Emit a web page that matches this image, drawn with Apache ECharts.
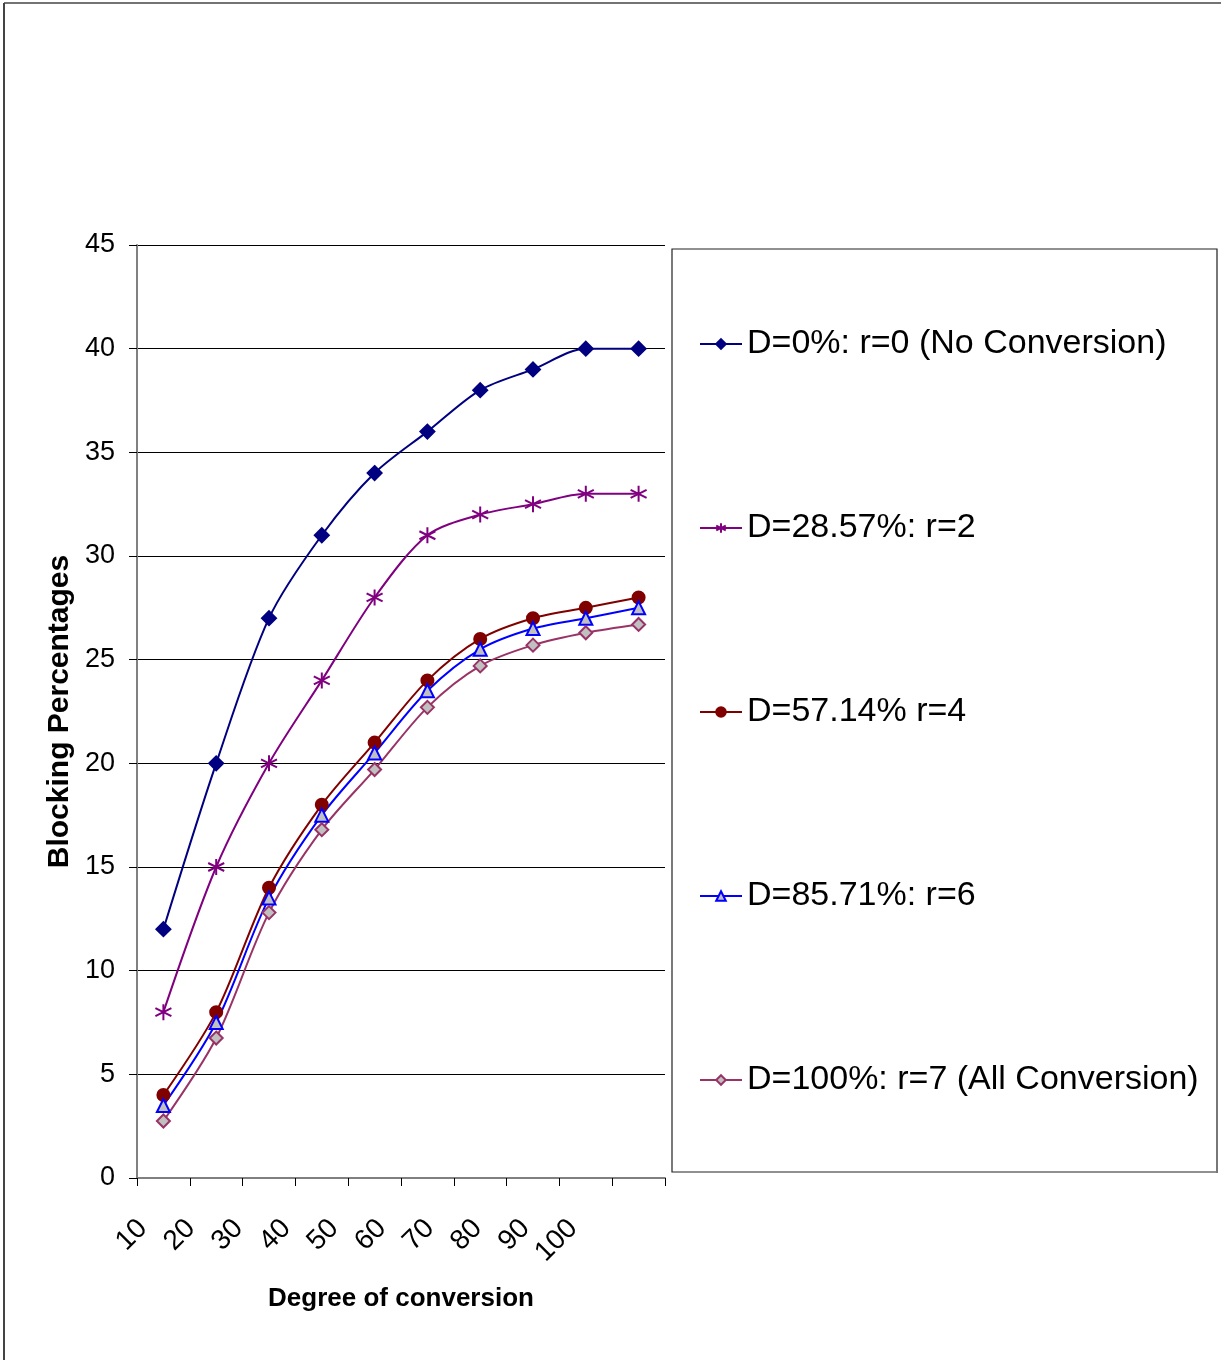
<!DOCTYPE html>
<html>
<head>
<meta charset="utf-8">
<script src="https://cdn.jsdelivr.net/npm/echarts@6/dist/echarts.min.js"></script>
<style>
html,body{margin:0;padding:0;background:#fff;}
#chart{width:1222px;height:1360px;}
</style>
</head>
<body>
<div id="chart"></div>
<script>
const categories = ['10','20','30','40','50','60','70','80','90','100'];
const yTicks = [0,5,10,15,20,25,30,35,40,45];
const seriesNames = [
  'D=0%: r=0 (No Conversion)',
  'D=28.57%: r=2',
  'D=57.14% r=4',
  'D=85.71%: r=6',
  'D=100%: r=7 (All Conversion)'
];
const d0   = [12, 20, 27, 31, 34, 36, 38, 39, 40, 40];
const d28  = [8, 15, 20, 24, 28, 31, 32, 32.5, 33, 33];
const d57  = [4, 8, 14, 18, 21, 24, 26, 27, 27.5, 28];
const d85  = [3.5, 7.5, 13.5, 17.5, 20.5, 23.5, 25.5, 26.5, 27, 27.5];
const d100 = [2.75, 6.75, 12.8, 16.8, 19.7, 22.7, 24.7, 25.7, 26.3, 26.7];

const SANS = '"Liberation Sans", Arial, sans-serif';

const chart = echarts.init(document.getElementById('chart'));
const asterisk = 'path://M5,0L5,10M0.7,2.5L9.3,7.5M0.7,7.5L9.3,2.5';

function mk(name, data, color, symbol, size, fill, extra) {
  return Object.assign({
    name: name, type: 'line', data: data, smooth: 0.3,
    xAxisIndex: 0, yAxisIndex: 0,
    symbol: symbol, symbolSize: size, showAllSymbol: true,
    lineStyle: { color: color, width: 2 },
    itemStyle: { color: fill, borderColor: color, borderWidth: 2 },
    emphasis: { disabled: true },
    z: 3
  }, extra || {});
}

const option = {
  animation: false,
  backgroundColor: '#fff',
  grid: [
    { left: 137, right: 557, top: 245, bottom: 182 },
    { left: 119, width: 478, top: 245, bottom: 182 }
  ],
  xAxis: [
    {
      gridIndex: 0, type: 'category', data: categories, boundaryGap: true,
      axisLine: { lineStyle: { color: '#808080', width: 2 } },
      axisTick: { show: true, alignWithLabel: false, length: 8, lineStyle: { color: '#000', width: 1 } },
      axisLabel: { show: false },
      splitLine: { show: false },
      name: 'Degree of conversion', nameLocation: 'middle', nameGap: 108,
      nameTextStyle: { fontFamily: SANS, fontWeight: 'bold', fontSize: 26, color: '#000' }
    },
    {
      gridIndex: 1, type: 'category', data: categories, boundaryGap: true,
      axisLine: { show: false }, axisTick: { show: false }, splitLine: { show: false },
      axisLabel: { rotate: 45, margin: 46, interval: 0, fontFamily: SANS, fontSize: 28, color: '#000' }
    }
  ],
  yAxis: [
    {
      gridIndex: 0, type: 'value', min: 0, max: 45, interval: 5,
      axisLine: { show: true, lineStyle: { color: '#808080', width: 2 } },
      axisTick: { show: true, length: 8, lineStyle: { color: '#000' } },
      axisLabel: { margin: 22, fontFamily: SANS, fontSize: 27, color: '#000',
        formatter: function (v) { return yTicks.indexOf(v) >= 0 ? String(v) : ''; } },
      splitLine: { show: true, lineStyle: { color: '#000', width: 1 } },
      name: 'Blocking Percentages', nameLocation: 'middle', nameRotate: 90, nameGap: 77,
      nameTextStyle: { fontFamily: SANS, fontWeight: 'bold', fontSize: 30, color: '#000', verticalAlign: 'middle' }
    },
    { gridIndex: 1, type: 'value', min: 0, max: 45, show: false }
  ],
  legend: {
    orient: 'vertical', left: 699, top: 324, padding: 0,
    itemWidth: 42, itemHeight: 12, itemGap: 144,
    data: seriesNames,
    textStyle: { fontFamily: SANS, fontSize: 34, color: '#000', lineHeight: 40 },
    selectedMode: false
  },
  graphic: [
    { type: 'rect', shape: { x: 672, y: 249, width: 545, height: 923 },
      style: { fill: 'none', stroke: '#222', lineWidth: 1.2 }, z: -1 },
    { type: 'line', shape: { x1: 1217, y1: 250, x2: 1217, y2: 1173 },
      style: { stroke: '#777', lineWidth: 2 }, z: -1 },
    { type: 'line', shape: { x1: 4, y1: 3, x2: 4, y2: 1360 },
      style: { stroke: '#444', lineWidth: 2 } },
    { type: 'line', shape: { x1: 4, y1: 3, x2: 1221, y2: 3 },
      style: { stroke: '#444', lineWidth: 1.5 } }
  ],
  series: [
    mk(seriesNames[0], d0, '#000080', 'diamond', 14, '#000080'),
    mk(seriesNames[1], d28, '#800080', asterisk, 16, 'none', { itemStyle: { color: 'none', borderColor: '#800080', borderWidth: 2 } }),
    mk(seriesNames[2], d57, '#800000', 'circle', 12, '#800000'),
    mk(seriesNames[3], d85, '#0000FF', 'triangle', 13, '#C0C0C0'),
    mk(seriesNames[4], d100, '#993366', 'diamond', 13, '#C0C0C0')
  ]
};
chart.setOption(option);
</script>
</body>
</html>
